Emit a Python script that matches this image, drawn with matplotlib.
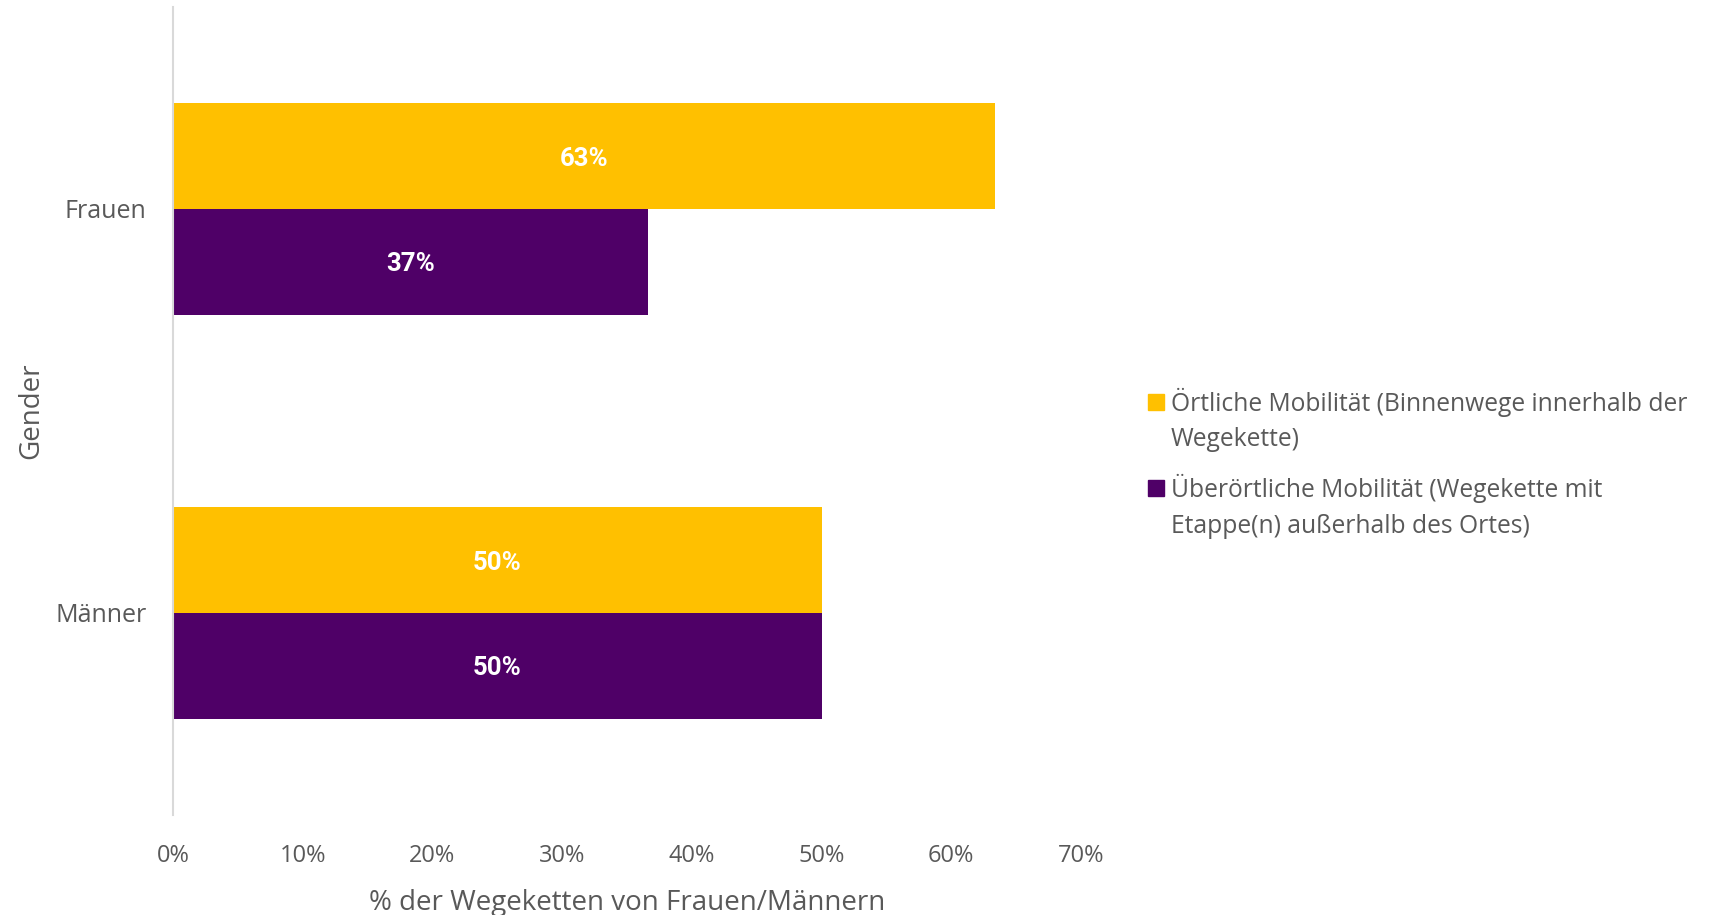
import matplotlib
matplotlib.use("Agg")
import matplotlib.pyplot as plt
from matplotlib.patches import Rectangle
import numpy as np

categories = ["Frauen", "Männer"]
series_names = ["Örtliche Mobilität (Binnenwege innerhalb der\nWegekette)",
                "Überörtliche Mobilität (Wegekette mit\nEtappe(n) außerhalb des Ortes)"]
oertlich = [63.4, 50.0]
ueberoertlich = [36.6, 50.0]
xticks = [0, 10, 20, 30, 40, 50, 60, 70]
colors = ["#FFC000", "#4F0067"]
txt = "#595959"
FONT = "Open Sans"

fig = plt.figure(figsize=(17.16, 9.15), dpi=100)
ax = fig.add_axes([173/1716, 1-815/915, (1081-173)/1716, (815-7)/915])

y = np.arange(len(categories))
h = 0.262
b1 = ax.barh(y - h/2, oertlich, height=h, color=colors[0])
b2 = ax.barh(y + h/2, ueberoertlich, height=h, color=colors[1])
for bars, vals in ((b1, oertlich), (b2, ueberoertlich)):
    for rect, v in zip(bars, vals):
        ax.text(rect.get_x() + rect.get_width()/2, rect.get_y() + rect.get_height()/2,
                f"{v:.0f}%", ha="center", va="center_baseline", color="white",
                fontsize=18.5, fontweight="bold", family="Roboto")

ax.set_ylim(-0.5, 1.5)
ax.invert_yaxis()
ax.set_xlim(0, 70)
ax.set_yticks(y)
ax.set_yticklabels(categories, fontsize=18, color=txt, family=FONT)
ax.set_xticks(xticks)
ax.set_xticklabels([f"{t}%" for t in xticks], fontsize=17, color=txt, family=FONT)
ax.tick_params(axis="both", length=0)
ax.tick_params(axis="y", pad=19)
ax.tick_params(axis="x", pad=21)
for s in ["top", "right", "bottom"]:
    ax.spines[s].set_visible(False)
ax.spines["left"].set_color("#d9d9d9")
ax.spines["left"].set_linewidth(1.5)
ax.set_xlabel("% der Wegeketten von Frauen/Männern", fontsize=20, color=txt, family=FONT, labelpad=15)
ax.set_ylabel("Gender", fontsize=20, color=txt, family=FONT, labelpad=7)

# legend drawn manually (square aligned to first line)
W, H = 1716, 915
fs = 17.7
cap = 0.71 * fs * 100 / 72
entry_y = [(402, 437), (488, 524)]
for name, c, ys in zip(series_names, colors, entry_y):
    fig.patches.append(Rectangle((1148/W, 1-(ys[0]+8)/H), 16/W, 16/H, transform=fig.transFigure,
                                 color=c))
    for line, ly in zip(name.split("\n"), ys):
        fig.text(1171/W, 1-(ly + cap/2)/H, line, ha="left", va="baseline", fontsize=fs,
                 color=txt, family=FONT)

fig.savefig("out.png", dpi=100, facecolor="white")
